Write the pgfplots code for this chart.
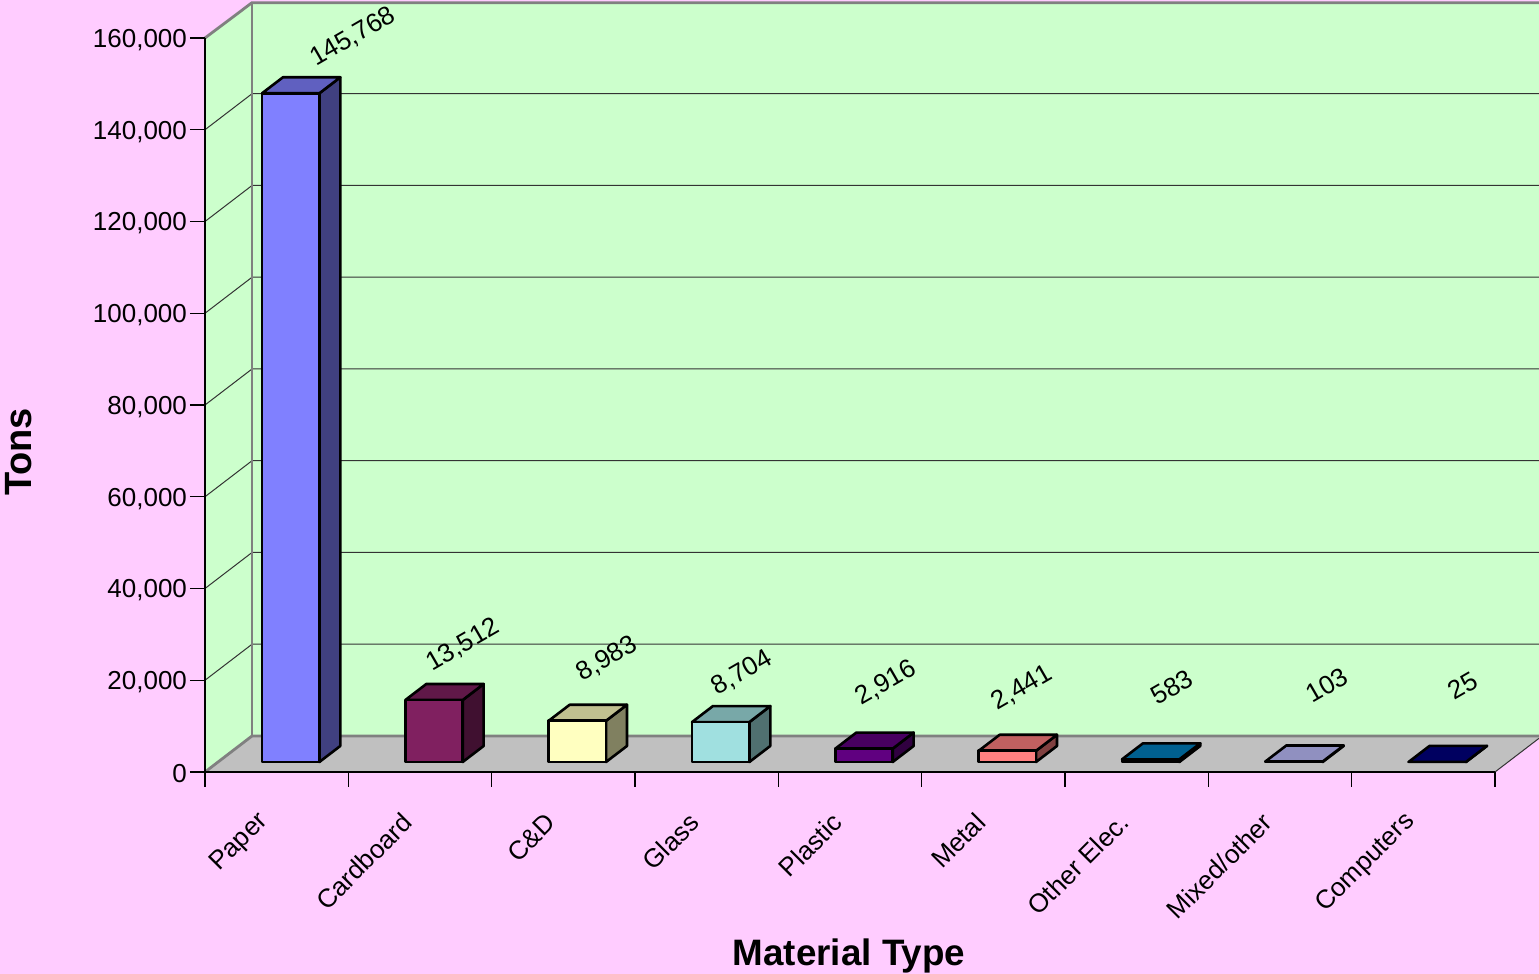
\documentclass[border=0pt]{standalone}
\usepackage{fontspec}
\setmainfont{Liberation Sans}
\usepackage{pgfplots}
\pgfplotsset{compat=1.18}

\definecolor{pagebg}{HTML}{FFCCFF}
\definecolor{wallbg}{HTML}{CCFFCC}
\definecolor{floorbg}{HTML}{C0C0C0}
\definecolor{paperf}{HTML}{8080FF}\definecolor{papert}{HTML}{6060C0}\definecolor{papers}{HTML}{404080}
\definecolor{cardf}{HTML}{802060}\definecolor{cardt}{HTML}{601848}\definecolor{cards}{HTML}{401030}
\definecolor{cdf}{HTML}{FFFFC0}\definecolor{cdt}{HTML}{C0C090}\definecolor{cds}{HTML}{808060}
\definecolor{glassf}{HTML}{A0E0E0}\definecolor{glasst}{HTML}{78A8A8}\definecolor{glasss}{HTML}{507070}
\definecolor{plastf}{HTML}{600080}\definecolor{plastt}{HTML}{480060}\definecolor{plasts}{HTML}{300040}
\definecolor{metalf}{HTML}{FF8080}\definecolor{metalt}{HTML}{C06060}\definecolor{metals}{HTML}{804040}
\definecolor{elecf}{HTML}{0080C0}\definecolor{elect}{HTML}{006090}\definecolor{elecs}{HTML}{004060}
\definecolor{mixedf}{HTML}{C0C0FF}\definecolor{mixedt}{HTML}{9090C0}\definecolor{mixeds}{HTML}{606080}
\definecolor{compf}{HTML}{000080}\definecolor{compt}{HTML}{000060}\definecolor{comps}{HTML}{000040}

\tikzset{barline/.style={draw=black, line width=1.3pt, line join=round}}

% one 3d bar: position, tons, colour prefix
\newcommand{\threedbar}[3]{%
  \edef\xa{\fpeval{#1+0.398}}%
  \edef\xb{\fpeval{#1+0.798}}%
  \edef\xc{\fpeval{#1+0.944}}%
  \edef\xd{\fpeval{#1+0.544}}%
  \edef\yb{\fpeval{2180+#2}}%
  \edef\yd{\fpeval{5670+#2}}%
  \addplot[barline, fill=#3s] coordinates {(\xb,2180) (\xc,5670) (\xc,\yd) (\xb,\yb)} -- cycle;
  \addplot[barline, fill=#3t] coordinates {(\xa,\yb) (\xb,\yb) (\xc,\yd) (\xd,\yd)} -- cycle;
  \addplot[barline, fill=#3f] coordinates {(\xa,2180) (\xb,2180) (\xb,\yb) (\xa,\yb)} -- cycle;
}
% one gridline over the side wall and the back wall
\newcommand{\gridline}[1]{%
  \edef\yb{\fpeval{#1+7847}}%
  \addplot[black!80, line width=.5pt] coordinates {(0,#1) (0.328,\yb) (9.307,\yb)};
}

\begin{document}
\begin{tikzpicture}
  \path[use as bounding box, fill=pagebg] (-102.5pt,-101pt) rectangle (667pt,386pt);
  \begin{axis}[
      scale only axis,
      width=645pt,
      height=367pt,
      clip=false,
      axis on top,
      xmin=0, xmax=9,
      ymin=0, ymax=160000,
      axis lines*=left,
      axis line style={-, black, line width=.7pt},
      tick align=outside,
      major tick length=7.5pt,
      tick style={black, line width=.6pt},
      xtick={0,1,...,9},
      xticklabels={},
      extra x ticks={0.44,1.44,2.44,3.44,4.44,5.44,6.44,7.44,8.44},
      extra x tick labels={Paper,Cardboard,C\&D,Glass,Plastic,Metal,Other Elec.,Mixed/other,Computers},
      extra x tick style={major tick length=0pt, tick style={draw=none},
        x tick label style={rotate=45, anchor=east, font=\fontsize{13}{15}\selectfont, xshift=-14.2pt, yshift=-14.9pt}},
      ytick={0,20000,...,160000},
      scaled y ticks=false,
      y tick label style={font=\fontsize{13}{15}\selectfont, xshift=2pt, yshift=-1pt},
      /pgf/number format/.cd, fixed, 1000 sep={,}, assume math mode=true,
      /tikz/.cd,
    ]
    % walls and floor
    \addplot[draw=none, fill=wallbg] coordinates {(0,0) (0.328,7847) (0.328,167847) (0,160000)} -- cycle;
    \addplot[draw=none, fill=wallbg] coordinates {(0.328,7847) (9.307,7847) (9.307,167847) (0.328,167847)} -- cycle;
    \gridline{20000}
    \gridline{40000}
    \gridline{60000}
    \gridline{80000}
    \gridline{100000}
    \gridline{120000}
    \gridline{140000}
    \addplot[draw=none, fill=floorbg] coordinates {(0,0) (0.328,7847) (9.307,7847) (9.307,7340) (9,0)} -- cycle;
    \addplot[black!50, line width=1.4pt] coordinates {(0,0) (0.328,7847) (9.307,7847)};
    \addplot[black!50, line width=1.4pt] coordinates {(0,160000) (0.328,167700) (9.307,167700)};
    \addplot[black!50, line width=1.4pt] coordinates {(0.328,7847) (0.328,167700)};
    \addplot[black!80, line width=.5pt] coordinates {(9,0) (9.307,7340)};
    % bars
    \threedbar{0}{145768}{paper}
    \threedbar{1}{13512}{card}
    \threedbar{2}{8983}{cd}
    \threedbar{3}{8704}{glass}
    \threedbar{4}{2916}{plast}
    \threedbar{5}{2441}{metal}
    \threedbar{6}{583}{elec}
    \threedbar{7}{103}{mixed}
    \threedbar{8}{25}{comp}
  \end{axis}
  % value labels and axis titles, placed in reference pixels
  \begin{scope}[shift={(-102.5pt,386pt)}, x=.5pt, y=-.5pt,
      every node/.style={font=\fontsize{13}{15}\selectfont}]
    \node[rotate=30] at (353,37) {145,768};
    \node[rotate=30] at (463,645) {13,512};
    \node[rotate=30] at (607,659) {8,983};
    \node[rotate=30] at (742,673) {8,704};
    \node[rotate=30] at (886,683) {2,916};
    \node[rotate=30] at (1022,688) {2,441};
    \node[rotate=30] at (1172,687) {583};
    \node[rotate=30] at (1327,685) {103};
    \node[rotate=30] at (1463,686) {25};
    \node[rotate=90, font=\fontsize{19}{22}\selectfont\bfseries] at (19,452) {Tons};
    \node[font=\fontsize{18.4}{22}\selectfont\bfseries] at (849,956) {Material Type};
  \end{scope}
\end{tikzpicture}
\end{document}
